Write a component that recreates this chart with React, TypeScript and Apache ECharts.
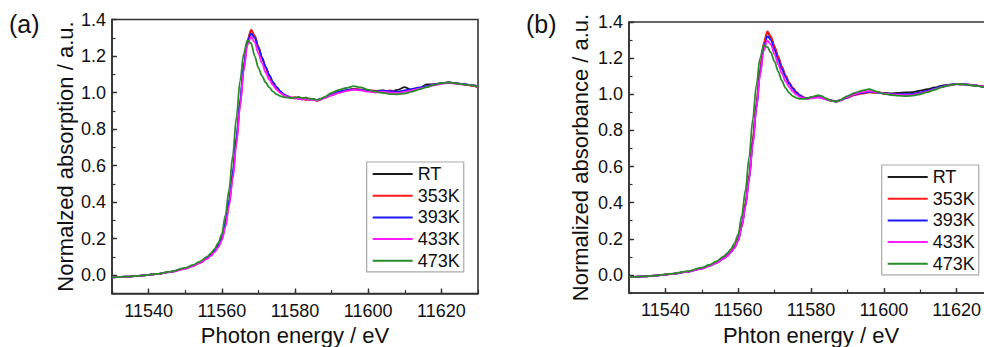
import React, { useEffect, useRef } from "react";
import * as echarts from "echarts";

// Photon energy (eV) sampling points shared by both panels
const energy = [
  11530, 11534, 11538, 11542, 11546, 11550, 11552, 11554, 11556, 11557, 11558, 11559,
  11560, 11561, 11562, 11563, 11564, 11565, 11566, 11567, 11568,
  11569, 11570, 11571, 11572, 11573, 11574, 11575, 11576, 11577, 11578,
  11579, 11580, 11581, 11582, 11583, 11584, 11585, 11586, 11587, 11588,
  11590, 11592, 11594, 11596, 11598, 11600, 11602, 11604, 11606, 11608, 11610,
  11612, 11614, 11616, 11618, 11620, 11622, 11624, 11626, 11628, 11630,
];

const seriesNames = ["RT", "353K", "393K", "433K", "473K"];
const seriesColors = ["#1a1a1a", "#ff1a1a", "#1a1aff", "#ff1aff", "#2a8c2a"];

// Panel (a): normalized absorption
const aRT = [
  -0.012, -0.008, -0.002, 0.006, 0.018, 0.037, 0.051, 0.07, 0.095, 0.111, 0.132, 0.16,
  0.202, 0.285, 0.4, 0.555, 0.745, 0.945, 1.14, 1.285, 1.34,
  1.31, 1.25, 1.19, 1.138, 1.092, 1.052, 1.025, 1.002, 0.988, 0.978,
  0.97, 0.968, 0.975, 0.962, 0.972, 0.96, 0.965, 0.958, 0.965, 0.972,
  0.988, 1.003, 1.012, 1.02, 1.015, 1.012, 1.008, 1.012, 1.005, 1.015, 1.03,
  1.012, 1.025, 1.045, 1.045, 1.052, 1.055, 1.05, 1.045, 1.04, 1.03,
];
const a353 = [
  -0.012, -0.008, -0.002, 0.006, 0.018, 0.036, 0.05, 0.068, 0.092, 0.108, 0.128, 0.155,
  0.195, 0.275, 0.39, 0.54, 0.73, 0.93, 1.13, 1.28, 1.345,
  1.31, 1.25, 1.19, 1.135, 1.09, 1.05, 1.022, 1.0, 0.987, 0.978,
  0.972, 0.975, 0.965, 0.97, 0.958, 0.968, 0.962, 0.955, 0.962, 0.97,
  0.985, 1.0, 1.01, 1.02, 1.018, 1.012, 1.01, 1.005, 1.012, 1.002, 1.01,
  1.015, 1.025, 1.035, 1.045, 1.05, 1.055, 1.05, 1.045, 1.038, 1.03,
];
const a393 = [
  -0.012, -0.008, -0.002, 0.006, 0.018, 0.037, 0.051, 0.07, 0.095, 0.112, 0.133, 0.162,
  0.205, 0.29, 0.41, 0.565, 0.755, 0.955, 1.145, 1.28, 1.322,
  1.3, 1.245, 1.19, 1.14, 1.095, 1.058, 1.03, 1.008, 0.99, 0.98,
  0.972, 0.97, 0.968, 0.966, 0.968, 0.963, 0.962, 0.958, 0.965, 0.972,
  0.99, 1.005, 1.013, 1.018, 1.015, 1.01, 1.005, 1.01, 1.008, 1.005, 1.012,
  1.02, 1.028, 1.035, 1.045, 1.05, 1.055, 1.05, 1.048, 1.042, 1.035,
];
const a433 = [
  -0.012, -0.008, -0.002, 0.006, 0.017, 0.035, 0.049, 0.066, 0.09, 0.106, 0.125, 0.152,
  0.19, 0.265, 0.38, 0.53, 0.72, 0.925, 1.12, 1.26, 1.305,
  1.275, 1.215, 1.16, 1.11, 1.07, 1.04, 1.015, 0.998, 0.985, 0.976,
  0.97, 0.968, 0.965, 0.962, 0.965, 0.96, 0.962, 0.956, 0.962, 0.97,
  0.985, 0.998, 1.008, 1.015, 1.012, 1.005, 1.0, 1.005, 1.0, 0.998, 1.005,
  1.012, 1.022, 1.03, 1.04, 1.048, 1.052, 1.048, 1.045, 1.04, 1.032,
];
const a473 = [
  -0.012, -0.008, -0.002, 0.007, 0.02, 0.04, 0.055, 0.075, 0.102, 0.12, 0.143, 0.175,
  0.225, 0.33, 0.47, 0.655, 0.865, 1.065, 1.215, 1.285, 1.27,
  1.2, 1.135, 1.09, 1.055, 1.028, 1.005, 0.99, 0.98, 0.975, 0.972,
  0.97, 0.972, 0.975, 0.97, 0.972, 0.966, 0.964, 0.96, 0.966, 0.975,
  0.998, 1.015, 1.025, 1.035, 1.028, 1.015, 1.005, 0.998, 0.992, 0.99, 0.995,
  1.005, 1.018, 1.03, 1.042, 1.052, 1.055, 1.05, 1.045, 1.04, 1.032,
];

// Panel (b): normalized absorbance
const bRT = [
  -0.012, -0.008, -0.002, 0.006, 0.018, 0.037, 0.051, 0.07, 0.094, 0.11, 0.13, 0.158,
  0.2, 0.282, 0.398, 0.55, 0.75, 0.948, 1.135, 1.28, 1.343,
  1.315, 1.26, 1.205, 1.15, 1.103, 1.064, 1.035, 1.012, 0.994, 0.982,
  0.978, 0.982, 0.984, 0.986, 0.98, 0.975, 0.968, 0.962, 0.962, 0.968,
  0.985, 1.0, 1.008, 1.012, 1.01, 1.008, 1.005, 1.008, 1.01, 1.012, 1.02,
  1.028, 1.038, 1.048, 1.053, 1.056, 1.055, 1.05, 1.046, 1.04, 1.034,
];
const b353 = [
  -0.012, -0.008, -0.002, 0.006, 0.018, 0.036, 0.05, 0.068, 0.092, 0.108, 0.128, 0.155,
  0.195, 0.275, 0.39, 0.54, 0.74, 0.94, 1.13, 1.28, 1.35,
  1.32, 1.265, 1.21, 1.153, 1.105, 1.065, 1.036, 1.012, 0.994, 0.982,
  0.978, 0.98, 0.983, 0.985, 0.982, 0.975, 0.97, 0.965, 0.96, 0.965,
  0.98, 0.995, 1.003, 1.01, 1.008, 1.005, 1.0, 1.002, 0.998, 1.0, 1.008,
  1.018, 1.03, 1.042, 1.05, 1.056, 1.055, 1.052, 1.048, 1.042, 1.035,
];
const b393 = [
  -0.012, -0.008, -0.002, 0.006, 0.017, 0.035, 0.049, 0.066, 0.09, 0.105, 0.125, 0.15,
  0.19, 0.268, 0.38, 0.53, 0.72, 0.92, 1.11, 1.255, 1.322,
  1.3, 1.245, 1.19, 1.14, 1.095, 1.058, 1.03, 1.008, 0.992, 0.98,
  0.977, 0.98, 0.982, 0.984, 0.98, 0.974, 0.968, 0.962, 0.96, 0.966,
  0.982, 0.998, 1.008, 1.014, 1.01, 1.005, 1.0, 1.002, 1.0, 1.002, 1.01,
  1.02, 1.032, 1.044, 1.052, 1.057, 1.056, 1.052, 1.047, 1.04, 1.034,
];
const b433 = [
  -0.012, -0.008, -0.002, 0.006, 0.017, 0.035, 0.049, 0.066, 0.09, 0.105, 0.125, 0.15,
  0.19, 0.268, 0.38, 0.53, 0.72, 0.92, 1.105, 1.24, 1.298,
  1.275, 1.22, 1.165, 1.115, 1.072, 1.04, 1.015, 0.998, 0.985, 0.978,
  0.975, 0.978, 0.98, 0.982, 0.978, 0.972, 0.966, 0.962, 0.96, 0.966,
  0.984, 1.0, 1.012, 1.018, 1.012, 1.005, 0.998, 0.998, 0.995, 0.996, 1.005,
  1.015, 1.028, 1.04, 1.05, 1.056, 1.055, 1.052, 1.047, 1.04, 1.034,
];
const b473 = [
  -0.012, -0.008, -0.002, 0.007, 0.02, 0.04, 0.055, 0.075, 0.102, 0.12, 0.143, 0.175,
  0.225, 0.33, 0.47, 0.65, 0.86, 1.05, 1.2, 1.27, 1.262,
  1.23, 1.18, 1.125, 1.075, 1.035, 1.008, 0.99, 0.98, 0.975, 0.975,
  0.978, 0.985, 0.99, 0.995, 0.99, 0.978, 0.968, 0.962, 0.96, 0.968,
  0.99, 1.008, 1.02, 1.028, 1.015, 1.002, 0.996, 0.992, 0.99, 0.992, 1.0,
  1.012, 1.025, 1.04, 1.05, 1.056, 1.055, 1.05, 1.045, 1.038, 1.032,
];

const panelA = [aRT, a353, a393, a433, a473];
const panelB = [bRT, b353, b393, b433, b473];

const xMin = 11530;
const xMax = 11630;
const yMin = -0.1;
const yMax = 1.4;

const FONT = "'Liberation Sans', Arial, Helvetica, sans-serif";
const TEXT = "#111";
const AXIS = "#333";

function majorX(grid: number, name: string) {
  return {
    type: "value",
    gridIndex: grid,
    position: "bottom",
    min: xMin,
    max: xMax,
    splitNumber: 5,
    name,
    nameLocation: "middle",
    nameGap: 31,
    nameTextStyle: { fontSize: 22, color: TEXT, fontFamily: FONT },
    axisLine: { show: true, onZero: false, lineStyle: { color: AXIS, width: 1.6 } },
    axisTick: { show: true, inside: true, length: 5, lineStyle: { color: AXIS, width: 1.4 } },
    axisLabel: {
      fontSize: 18,
      color: TEXT,
      fontFamily: FONT,
      margin: 8,
      showMinLabel: false,
      showMaxLabel: false,
      formatter: (v: number) => String(Math.round(v)),
    },
    splitLine: { show: false },
  };
}

function minorX(grid: number) {
  return {
    type: "value",
    gridIndex: grid,
    position: "bottom",
    min: xMin,
    max: xMax,
    interval: 10,
    axisLine: { show: false, onZero: false },
    axisTick: { show: true, inside: true, length: 3.5, lineStyle: { color: AXIS, width: 1.2 } },
    axisLabel: { show: false },
    splitLine: { show: false },
  };
}

function majorY(grid: number, name: string, gap: number) {
  return {
    type: "value",
    gridIndex: grid,
    position: "left",
    min: yMin,
    max: yMax,
    splitNumber: 7,
    name,
    nameLocation: "middle",
    nameGap: gap,
    nameTextStyle: { fontSize: 22, color: TEXT, fontFamily: FONT },
    axisLine: { show: true, onZero: false, lineStyle: { color: AXIS, width: 1.6 } },
    axisTick: { show: true, inside: true, length: 5, lineStyle: { color: AXIS, width: 1.4 } },
    axisLabel: {
      fontSize: 18,
      color: TEXT,
      fontFamily: FONT,
      margin: 6,
      showMinLabel: false,
      formatter: (v: number) => (v < -0.05 ? "" : v.toFixed(1)),
    },
    splitLine: { show: false },
  };
}

function minorY(grid: number) {
  return {
    type: "value",
    gridIndex: grid,
    position: "left",
    min: yMin,
    max: yMax,
    interval: 0.1,
    axisLine: { show: false, onZero: false },
    axisTick: { show: true, inside: true, length: 3.5, lineStyle: { color: AXIS, width: 1.2 } },
    axisLabel: { show: false },
    splitLine: { show: false },
  };
}

function makeSeries(panel: number[][], axisIndex: number) {
  return seriesNames.map((name, i) => ({
    name,
    type: "line",
    xAxisIndex: axisIndex,
    yAxisIndex: axisIndex,
    data: energy.map((e, k) => [e, panel[i][k]]),
    showSymbol: false,
    symbol: "none",
    smooth: 0.3,
    smoothMonotone: "x",
    lineStyle: { color: seriesColors[i], width: 1.8 },
    itemStyle: { color: seriesColors[i] },
    silent: true,
  }));
}

function legendAt(left: number, top: number) {
  return {
    orient: "vertical",
    left,
    top,
    data: seriesNames,
    icon: "rect",
    itemWidth: 40,
    itemHeight: 2,
    itemGap: 3.7,
    padding: [3, 4, 2, 6],
    borderColor: "#aaa",
    borderWidth: 1.2,
    backgroundColor: "#fff",
    selectedMode: false,
    textStyle: { fontSize: 18, lineHeight: 18, color: TEXT, fontFamily: FONT },
  };
}

export default function App() {
  const ref = useRef<HTMLDivElement>(null);

  useEffect(() => {
    if (!ref.current) return;
    const chart = echarts.init(ref.current, undefined, { renderer: "svg" });
    chart.setOption({
      animation: false,
      backgroundColor: "#fff",
      textStyle: { fontFamily: FONT },
      grid: [
        { left: 112, top: 19.5, width: 366, height: 274, show: true, borderColor: AXIS, borderWidth: 1.6, backgroundColor: "transparent" },
        { left: 629, top: 22, width: 364, height: 271, show: true, borderColor: AXIS, borderWidth: 1.6, backgroundColor: "transparent" },
      ],
      xAxis: [
        majorX(0, "Photon energy / eV"),
        minorX(0),
        majorX(1, "Phton energy / eV"),
        minorX(1),
      ],
      yAxis: [
        majorY(0, "Normalzed absorption / a.u.", 36),
        minorY(0),
        majorY(1, "Normalized absorbance / a.u.", 38),
        minorY(1),
      ],
      legend: [legendAt(366.7, 162), legendAt(881.7, 165)],
      graphic: [
        { type: "text", left: 9, top: 11, style: { text: "(a)", fontSize: 25, fill: TEXT, fontFamily: FONT } },
        { type: "text", left: 526, top: 11, style: { text: "(b)", fontSize: 25, fill: TEXT, fontFamily: FONT } },
      ],
      series: [...makeSeries(panelA, 0), ...makeSeries(panelB, 2)],
    });
    return () => chart.dispose();
  }, []);

  return (
    <div style={{ position: "fixed", left: 0, top: 0, width: 984, height: 347, overflow: "hidden", background: "#fff" }}>
      <div ref={ref} style={{ width: 1000, height: 360 }} />
    </div>
  );
}
